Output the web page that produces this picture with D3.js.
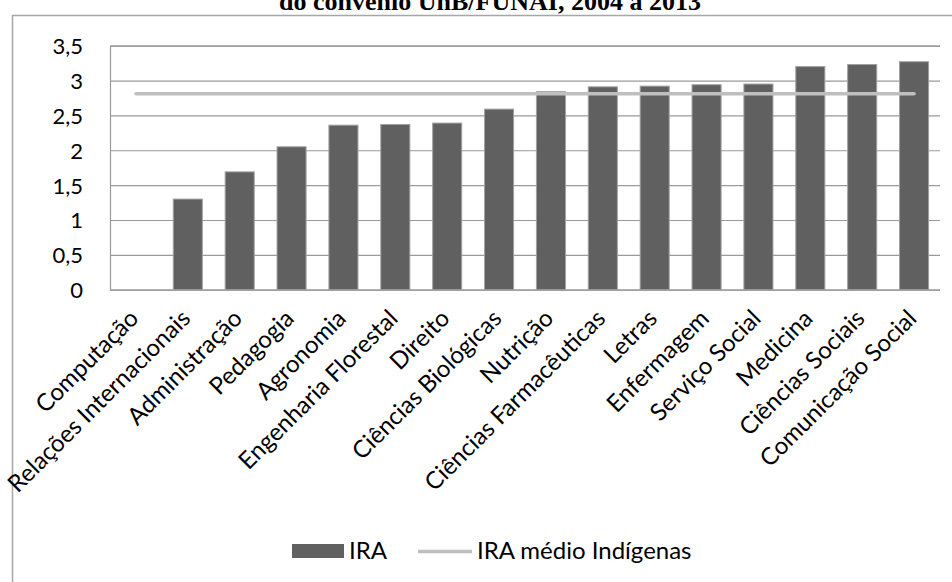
<!DOCTYPE html>
<html>
<head>
<meta charset="utf-8">
<script src="https://cdn.jsdelivr.net/npm/d3@7"></script>
<style>
  html, body { margin: 0; padding: 0; background: #ffffff; }
  svg { display: block; }
  .lbl { font-family: Lato, "Open Sans", sans-serif; fill: #000; }
</style>
</head>
<body>
<svg id="chart" width="952" height="582"></svg>
<script>
// Courses, ordered by IRA (índice de rendimento acadêmico)
const cursos = [
  "Computação", "Relações Internacionais", "Administração", "Pedagogia",
  "Agronomia", "Engenharia Florestal", "Direito", "Ciências Biológicas",
  "Nutrição", "Ciências Farmacêuticas", "Letras", "Enfermagem",
  "Serviço Social", "Medicina", "Ciências Sociais", "Comunicação Social"
];
const ira = [0, 1.30, 1.69, 2.05, 2.36, 2.37, 2.39, 2.59, 2.84, 2.91, 2.92, 2.94, 2.95, 3.20, 3.23, 3.27];
// Mean IRA of indigenous students, drawn as a flat reference line
const iraMedio = cursos.map(() => 2.81);
const yTicks = [0, 0.5, 1, 1.5, 2, 2.5, 3, 3.5];
const titulo = "do convênio UnB/FUNAI, 2004 a 2013";
const legenda = ["IRA", "IRA médio Indígenas"];

const svg = d3.select("#chart");
const plot = { left: 110, right: 940, top: 45.7, bottom: 289.7 };

const x = d3.scaleBand().domain(cursos).range([plot.left, plot.right]).paddingInner(0.44).paddingOuter(0.22);
const xc = d3.scaleBand().domain(cursos).range([plot.left, plot.right]);
const y = d3.scaleLinear().domain([0, 3.5]).range([plot.bottom, plot.top]);

// Title (runs off the top edge)
svg.append("text")
  .attr("x", 490).attr("y", 9.5)
  .attr("text-anchor", "middle")
  .style("font-family", "'Liberation Serif', 'Times New Roman', serif")
  .style("font-weight", "bold")
  .style("font-size", "26px")
  .text(titulo);

// Chart frame
svg.append("rect")
  .attr("x", 12.5).attr("y", 15.5)
  .attr("width", 960).attr("height", 600)
  .attr("fill", "none").attr("stroke", "#a6a6a6").attr("stroke-width", 1.5);

// Horizontal gridlines and value labels
const yAxis = d3.axisLeft(y).tickValues(yTicks)
  .tickSize(-(plot.right - plot.left))
  .tickFormat(d => String(d).replace(".", ","));
const gy = svg.append("g").attr("transform", `translate(${plot.left},0)`).call(yAxis);
gy.select(".domain").attr("stroke", "#9a9a9a").attr("stroke-width", 1.2);
gy.selectAll(".tick line").attr("stroke", "#9a9a9a").attr("stroke-width", 1.2);
gy.selectAll(".tick text")
  .attr("class", "lbl")
  .attr("x", -27)
  .style("font-size", "22px")
  .attr("dy", "0.36em");

// Bars
svg.append("g").selectAll("rect")
  .data(cursos)
  .join("rect")
  .attr("x", d => x(d))
  .attr("width", x.bandwidth())
  .attr("y", (d, i) => y(ira[i]))
  .attr("height", (d, i) => y(0) - y(ira[i]))
  .attr("fill", "#606060")
  .attr("stroke", "#a0a0a0")
  .attr("stroke-width", 1);

// Mean line
const line = d3.line()
  .x(d => xc(d) + xc.bandwidth() / 2)
  .y((d, i) => y(iraMedio[i]));
svg.append("path")
  .datum(cursos)
  .attr("d", line)
  .attr("fill", "none")
  .attr("stroke", "#bfbfbf")
  .attr("stroke-width", 3.5)
  .attr("stroke-linecap", "round");

// Rotated category labels
svg.append("g").selectAll("text")
  .data(cursos)
  .join("text")
  .attr("class", "lbl")
  .style("font-size", "24px")
  .attr("text-anchor", "end")
  .attr("transform", d => `translate(${xc(d) + xc.bandwidth() / 2 - 2},${314}) rotate(-45)`)
  .attr("dy", "0.35em")
  .text(d => d);

// Legend
const lg = svg.append("g");
lg.append("rect")
  .attr("x", 292).attr("y", 544).attr("width", 52).attr("height", 14)
  .attr("fill", "#606060");
lg.append("text").attr("class", "lbl").style("font-size", "24px")
  .attr("x", 349).attr("y", 559).text(legenda[0]);
lg.append("line")
  .attr("x1", 418).attr("x2", 472).attr("y1", 551.5).attr("y2", 551.5)
  .attr("stroke", "#bfbfbf").attr("stroke-width", 3.5);
lg.append("text").attr("class", "lbl").style("font-size", "24px")
  .attr("x", 477).attr("y", 559).text(legenda[1]);
</script>
</body>
</html>
